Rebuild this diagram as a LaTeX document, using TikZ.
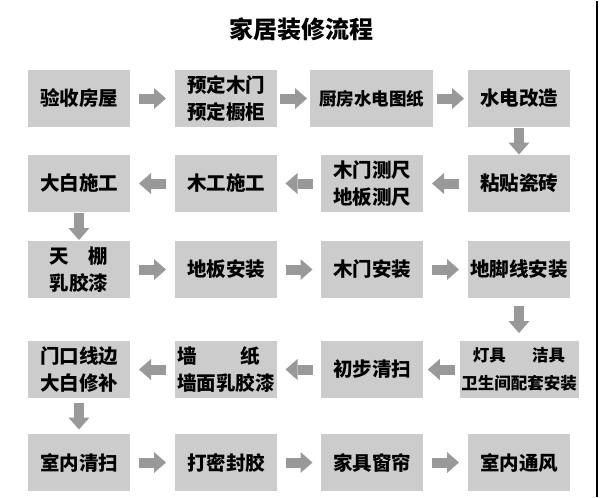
\documentclass[tikz,border=0pt]{standalone}
\usepackage{fontspec}
\newfontfamily\cjk{Noto Sans CJK SC}
\usetikzlibrary{calc,arrows.meta}
\definecolor{boxgray}{gray}{0.80}
\definecolor{arrowgray}{gray}{0.60}
\tikzset{
	flowbox/.style={fill=boxgray, minimum width=102pt, minimum height=57pt, inner sep=0pt, align=center, font=\cjk\bfseries\fontsize{19.5}{27}\selectfont},
	fatarrow/.style={draw=arrowgray, line width=10pt, -{Triangle[length=12pt, width=21pt, line width=0pt, fill=arrowgray]}}
}
\def\flowarrow(#1)(#2){\draw[fatarrow] ($(#1)!.5!(#2)!13.5pt!(#1)$) -- ($(#1)!.5!(#2)!13.5pt!(#2)$);}

\begin{document}
\begin{tikzpicture}[x=1pt, y=-1pt]
			%%%%% START %%%%%
			
			\fill[white] (0, 0) rectangle (600, 496);
			\draw[line width=2pt] (597, 0) -- (597, 496);
			
			\node[font=\cjk\bfseries\fontsize{24}{28}\selectfont] (title) at (301, 28) {家居装修流程};
			
			\node[flowbox] (yanshou) at (79, 97.5) {验收房屋};
			\node[flowbox] (yuding) at (226, 97.5) {预定木门\\预定橱柜};
			\node[flowbox, minimum width=123pt, font=\cjk\bfseries\fontsize{17.5}{25}\selectfont] (tuzhi) at (371.5, 97.5) {厨房水电图纸};
			\node[flowbox] (gaizao) at (519, 97.5) {水电改造};
			
			\node[flowbox] (dabai) at (79, 182.5) {大白施工};
			\node[flowbox] (mugong) at (226, 182.5) {木工施工};
			\node[flowbox] (cechi) at (372, 182.5) {木门测尺\\地板测尺};
			\node[flowbox] (cizhuan) at (519, 182.5) {粘贴瓷砖};
			
			\node[flowbox] (tianpeng) at (79, 268.5) {天\quad 棚\\乳胶漆};
			\node[flowbox] (diban) at (226, 268.5) {地板安装};
			\node[flowbox] (mumen) at (372, 268.5) {木门安装};
			\node[flowbox] (jiaoxian) at (519, 268.5) {地脚线安装};
			
			\node[flowbox] (xiubu) at (79, 368.5) {门口线边\\大白修补};
			\node[flowbox, align=left] (qiangzhi) at (226, 368.5) {墙\hspace{2.25em}纸\\墙面乳胶漆};
			\node[flowbox] (qingsao) at (372, 368.5) {初步清扫};
			\node[flowbox, minimum width=119pt, font=\cjk\bfseries\fontsize{16.5}{28}\selectfont] (peitao) at (519, 368.5) {灯具\hspace{1.6em}洁具\\卫生间配套安装};
			
			\node[flowbox] (shinei) at (79, 461.5) {室内清扫};
			\node[flowbox] (mifeng) at (226, 461.5) {打密封胶};
			\node[flowbox] (chuanglian) at (372, 461.5) {家具窗帘};
			\node[flowbox] (tongfeng) at (519, 461.5) {室内通风};
			
			% row 1, to the right
			\flowarrow(yanshou.east)(yuding.west)
			\flowarrow(yuding.east)(tuzhi.west)
			\flowarrow(tuzhi.east)(gaizao.west)
			\flowarrow(gaizao.south)(cizhuan.north)
			
			% row 2, to the left
			\flowarrow(cizhuan.west)(cechi.east)
			\flowarrow(cechi.west)(mugong.east)
			\flowarrow(mugong.west)(dabai.east)
			\flowarrow(dabai.south)(tianpeng.north)
			
			% row 3, to the right
			\flowarrow(tianpeng.east)(diban.west)
			\flowarrow(diban.east)(mumen.west)
			\flowarrow(mumen.east)(jiaoxian.west)
			\flowarrow(jiaoxian.south)(peitao.north)
			
			% row 4, to the left
			\flowarrow(peitao.west)(qingsao.east)
			\flowarrow(qingsao.west)(qiangzhi.east)
			\flowarrow(qiangzhi.west)(xiubu.east)
			\flowarrow(xiubu.south)(shinei.north)
			
			% row 5, to the right
			\flowarrow(shinei.east)(mifeng.west)
			\flowarrow(mifeng.east)(chuanglian.west)
			\flowarrow(chuanglian.east)(tongfeng.west)
			
			%%%%% END %%%%%
\end{tikzpicture}
\end{document}
